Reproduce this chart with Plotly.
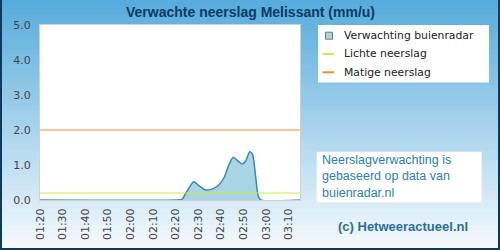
import plotly.graph_objects as go

# ---- data ----
rain_times = ["2024-01-01 01:20:00", "2024-01-01 02:20:00", "2024-01-01 02:22:45",
              "2024-01-01 02:25:00", "2024-01-01 02:28:00", "2024-01-01 02:30:30",
              "2024-01-01 02:33:00", "2024-01-01 02:36:00", "2024-01-01 02:39:00",
              "2024-01-01 02:41:30", "2024-01-01 02:43:30", "2024-01-01 02:45:30",
              "2024-01-01 02:47:30", "2024-01-01 02:49:30", "2024-01-01 02:51:00",
              "2024-01-01 02:52:45", "2024-01-01 02:54:00", "2024-01-01 02:55:30",
              "2024-01-01 02:56:30", "2024-01-01 02:57:40", "2024-01-01 03:15:00"]
rain_values = [0, 0, 0.02, 0.25, 0.52, 0.40, 0.29, 0.31, 0.42, 0.65, 1.0, 1.22,
               1.12, 1.03, 1.12, 1.38, 1.31, 0.6, 0.12, 0, 0]
x_range = ["2024-01-01 01:20:00", "2024-01-01 03:15:00"]
light_level = 0.2
moderate_level = 2.0
y_ticks = [0, 1, 2, 3, 4, 5]
legend_labels = ["Verwachting buienradar", "Lichte neerslag", "Matige neerslag"]
title_text = "Verwachte neerslag Melissant (mm/u)"
info_text = "Neerslagverwachting is<br>gebaseerd op data van<br>buienradar.nl"
credit_text = "(c) Hetweeractueel.nl"

W, H = 500, 250
def px(x):
    return x / W
def py(y):
    return 1 - y / H

fig = go.Figure()
fig.add_trace(go.Scatter(x=rain_times, y=rain_values, mode="lines",
                         line=dict(color="#3a8aad", width=1.5, shape="spline", smoothing=0.6),
                         fill="tozeroy", fillcolor="#a9d5e4", showlegend=False,
                         hoverinfo="skip"))
fig.add_trace(go.Scatter(x=x_range, y=[light_level, light_level], mode="lines",
                         line=dict(color="#cdee3a", width=1.2), showlegend=False))
fig.add_trace(go.Scatter(x=x_range, y=[moderate_level, moderate_level], mode="lines",
                         line=dict(color="#ff8c26", width=1.2), showlegend=False))

shapes = []
# background gradient
n = 50
top = (86, 172, 220)
bot = (246, 250, 253)
for i in range(n):
    t = i / (n - 1)
    c = tuple(round(top[k] + (bot[k] - top[k]) * t) for k in range(3))
    shapes.append(dict(type="rect", xref="paper", yref="paper", x0=0, x1=1,
                       y0=1 - (i + 1) / n - 0.002, y1=1 - i / n,
                       fillcolor="rgb(%d,%d,%d)" % c, line=dict(width=0), layer="below"))
# plot area white
shapes.append(dict(type="rect", xref="paper", yref="paper", x0=px(40), x1=px(300),
                   y0=py(200), y1=py(25), fillcolor="white", line=dict(width=0), layer="below"))
# legend box
shapes.append(dict(type="rect", xref="paper", yref="paper", x0=px(318), x1=px(489),
                   y0=py(82.5), y1=py(25), fillcolor="white", line=dict(width=0), layer="below"))
shapes.append(dict(type="rect", xref="paper", yref="paper", x0=px(325.5), x1=px(332.5),
                   y0=py(39.2), y1=py(32.2), fillcolor="#a9d5e4", line=dict(color="#777", width=1)))
shapes.append(dict(type="line", xref="paper", yref="paper", x0=px(322.5), x1=px(334),
                   y0=py(54), y1=py(54), line=dict(color="#cdee3a", width=2)))
shapes.append(dict(type="line", xref="paper", yref="paper", x0=px(322.5), x1=px(334),
                   y0=py(72.3), y1=py(72.3), line=dict(color="#ff8c26", width=2)))
# info box
shapes.append(dict(type="rect", xref="paper", yref="paper", x0=px(316.7), x1=px(481.7),
                   y0=py(202.3), y1=py(151.7), fillcolor="white", line=dict(width=0), layer="below"))
# outer border
for (x0, y0, x1, y1) in [(1, 0, 1, 250), (499, 0, 499, 250), (0, 249, 500, 249)]:
    shapes.append(dict(type="line", xref="paper", yref="paper", x0=px(x0), x1=px(x1),
                       y0=py(y0), y1=py(y1), line=dict(color="#0d3a5e", width=2)))

annotations = [
    dict(text="<b>" + title_text + "</b>", x=0.5, y=py(12), xref="paper", yref="paper",
         showarrow=False, xanchor="center", yanchor="middle",
         font=dict(family="Liberation Sans", size=14, color="#0e3a63")),
    dict(text=info_text, x=px(319.5), y=py(176.5), xref="paper", yref="paper",
         showarrow=False, xanchor="left", yanchor="middle", align="left",
         font=dict(family="Liberation Sans", size=12.5, color="#2e80ab")),
    dict(text="<b>" + credit_text + "</b>", x=px(403), y=py(226), xref="paper", yref="paper",
         showarrow=False, xanchor="center", yanchor="middle",
         font=dict(family="Liberation Sans", size=13, color="#2b6e98")),
]
for lbl, yy in zip(legend_labels, [35.7, 54, 72.3]):
    annotations.append(dict(text=lbl, x=px(342), y=py(yy), xref="paper", yref="paper",
                            showarrow=False, xanchor="left", yanchor="middle",
                            font=dict(family="DejaVu Sans", size=10.8, color="#222")))

fig.update_layout(
    width=W, height=H, autosize=False,
    margin=dict(l=0, r=0, t=0, b=0, pad=0),
    paper_bgcolor="white", plot_bgcolor="white",
    showlegend=False,
    shapes=shapes, annotations=annotations,
    xaxis=dict(domain=[px(40), px(300)], type="date", range=x_range, automargin=False,
               dtick=600000, tick0="2024-01-01 01:20:00", tickformat="%H:%M",
               tickangle=-90, showgrid=False, zeroline=False,
               showline=True, mirror=True, linecolor="#d0d0d0", linewidth=1,
               ticks="outside", ticklen=3, tickcolor="rgba(0,0,0,0)",
               tickfont=dict(family="DejaVu Sans", size=11, color="#444")),
    yaxis=dict(domain=[py(200), py(25)], range=[0, 5], tickvals=y_ticks, automargin=False,
               tickformat=".1f", showgrid=False, zeroline=False,
               showline=True, mirror=True, linecolor="#d0d0d0", linewidth=1,
               ticks="outside", ticklen=6, tickcolor="rgba(0,0,0,0)",
               tickfont=dict(family="DejaVu Sans", size=11, color="#444")),
)

fig.write_html("out.html")
